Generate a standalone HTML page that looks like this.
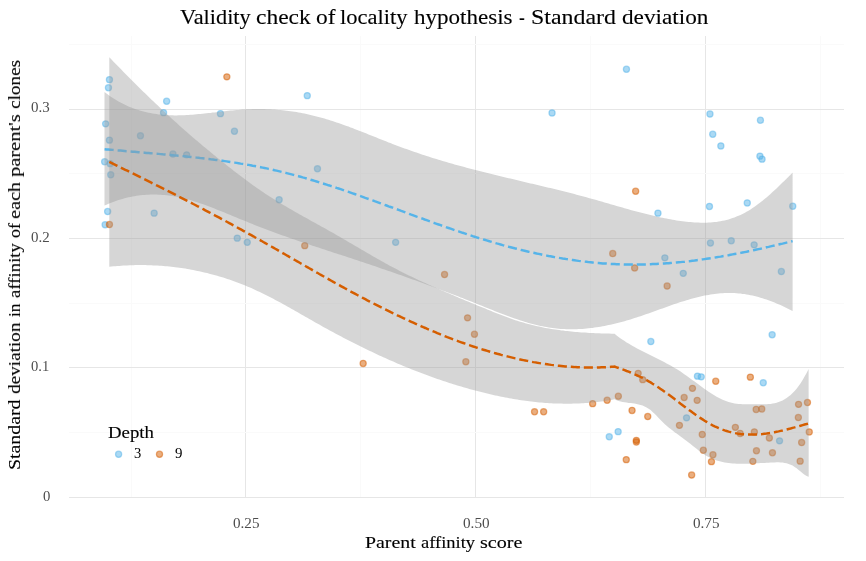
<!DOCTYPE html>
<html><head><meta charset="utf-8"><title>Validity check of locality hypothesis</title>
<style>
html,body{margin:0;padding:0;background:#fff;}
body{width:866px;height:561px;position:relative;overflow:hidden;font-family:"Liberation Serif",serif;}
.t{position:absolute;white-space:nowrap;line-height:1;transform-origin:0 0;color:#000;will-change:transform;-webkit-text-stroke:0.12px currentColor;}
.tick{color:#4d4d4d;-webkit-text-stroke:0;}
.leg{-webkit-text-stroke:0;}
</style></head><body>
<svg width="866" height="561" viewBox="0 0 866 561" style="position:absolute;left:0;top:0">
<rect x="245" y="36" width="1" height="462" fill="#e6e6e6"/>
<rect x="475" y="36" width="1" height="462" fill="#e6e6e6"/>
<rect x="705" y="36" width="1" height="462" fill="#e6e6e6"/>
<rect x="131" y="36" width="1" height="462" fill="#fafafa"/>
<rect x="360" y="36" width="1" height="462" fill="#fafafa"/>
<rect x="590" y="36" width="1" height="462" fill="#fafafa"/>
<rect x="820" y="36" width="1" height="462" fill="#fafafa"/>
<rect x="69" y="44" width="775" height="1" fill="#fafafa"/>
<rect x="69" y="173" width="775" height="1" fill="#fafafa"/>
<rect x="69" y="303" width="775" height="1" fill="#fafafa"/>
<rect x="69" y="432" width="775" height="1" fill="#fafafa"/>
<rect x="69" y="109" width="775" height="1" fill="#e6e6e6"/>
<rect x="69" y="238" width="775" height="1" fill="#e6e6e6"/>
<rect x="69" y="367" width="775" height="1" fill="#e6e6e6"/>
<rect x="69" y="497" width="775" height="1" fill="#e6e6e6"/>
<g fill="#56B4E9" fill-opacity="0.5" stroke="#56B4E9" stroke-opacity="0.5" stroke-width="1.23">
<circle cx="109.45" cy="79.65" r="3.08"/>
<circle cx="108.45" cy="87.75" r="3.08"/>
<circle cx="166.65" cy="101.25" r="3.08"/>
<circle cx="163.55" cy="112.65" r="3.08"/>
<circle cx="220.45" cy="113.65" r="3.08"/>
<circle cx="105.65" cy="123.85" r="3.08"/>
<circle cx="234.45" cy="131.25" r="3.08"/>
<circle cx="140.45" cy="135.75" r="3.08"/>
<circle cx="109.45" cy="140.15" r="3.08"/>
<circle cx="172.95" cy="154.05" r="3.08"/>
<circle cx="186.65" cy="154.85" r="3.08"/>
<circle cx="104.65" cy="161.75" r="3.08"/>
<circle cx="110.15" cy="163.65" r="3.08"/>
<circle cx="110.75" cy="174.75" r="3.08"/>
<circle cx="107.65" cy="211.55" r="3.08"/>
<circle cx="154.15" cy="213.15" r="3.08"/>
<circle cx="105.15" cy="224.75" r="3.08"/>
<circle cx="237.25" cy="238.15" r="3.08"/>
<circle cx="247.25" cy="242.35" r="3.08"/>
<circle cx="279.15" cy="199.75" r="3.08"/>
<circle cx="307.25" cy="95.65" r="3.08"/>
<circle cx="317.45" cy="168.75" r="3.08"/>
<circle cx="395.65" cy="242.35" r="3.08"/>
<circle cx="552.05" cy="112.95" r="3.08"/>
<circle cx="626.45" cy="69.25" r="3.08"/>
<circle cx="657.95" cy="213.15" r="3.08"/>
<circle cx="664.85" cy="257.85" r="3.08"/>
<circle cx="683.25" cy="273.35" r="3.08"/>
<circle cx="709.95" cy="114.05" r="3.08"/>
<circle cx="760.45" cy="120.25" r="3.08"/>
<circle cx="712.75" cy="134.25" r="3.08"/>
<circle cx="720.85" cy="145.95" r="3.08"/>
<circle cx="759.95" cy="156.15" r="3.08"/>
<circle cx="762.05" cy="159.15" r="3.08"/>
<circle cx="709.45" cy="206.45" r="3.08"/>
<circle cx="747.25" cy="202.95" r="3.08"/>
<circle cx="792.75" cy="206.25" r="3.08"/>
<circle cx="710.45" cy="243.05" r="3.08"/>
<circle cx="731.25" cy="240.75" r="3.08"/>
<circle cx="754.15" cy="244.85" r="3.08"/>
<circle cx="781.35" cy="271.55" r="3.08"/>
<circle cx="650.85" cy="341.55" r="3.08"/>
<circle cx="772.15" cy="334.75" r="3.08"/>
<circle cx="697.45" cy="376.15" r="3.08"/>
<circle cx="701.25" cy="376.85" r="3.08"/>
<circle cx="763.25" cy="382.75" r="3.08"/>
<circle cx="686.55" cy="417.85" r="3.08"/>
<circle cx="779.55" cy="440.85" r="3.08"/>
<circle cx="609.25" cy="436.75" r="3.08"/>
<circle cx="618.15" cy="431.65" r="3.08"/>
</g>
<g fill="#D55E00" fill-opacity="0.5" stroke="#D55E00" stroke-opacity="0.5" stroke-width="1.23">
<circle cx="226.85" cy="76.85" r="3.08"/>
<circle cx="109.45" cy="224.55" r="3.08"/>
<circle cx="304.75" cy="245.65" r="3.08"/>
<circle cx="444.55" cy="274.55" r="3.08"/>
<circle cx="363.15" cy="363.45" r="3.08"/>
<circle cx="467.55" cy="317.85" r="3.08"/>
<circle cx="474.45" cy="334.25" r="3.08"/>
<circle cx="465.85" cy="361.75" r="3.08"/>
<circle cx="635.65" cy="191.25" r="3.08"/>
<circle cx="612.75" cy="253.55" r="3.08"/>
<circle cx="634.65" cy="267.95" r="3.08"/>
<circle cx="667.15" cy="286.05" r="3.08"/>
<circle cx="534.55" cy="411.75" r="3.08"/>
<circle cx="543.65" cy="411.75" r="3.08"/>
<circle cx="592.65" cy="403.65" r="3.08"/>
<circle cx="607.15" cy="400.25" r="3.08"/>
<circle cx="618.35" cy="396.25" r="3.08"/>
<circle cx="632.05" cy="410.45" r="3.08"/>
<circle cx="647.75" cy="416.55" r="3.08"/>
<circle cx="638.15" cy="373.35" r="3.08"/>
<circle cx="642.75" cy="379.65" r="3.08"/>
<circle cx="692.45" cy="388.35" r="3.08"/>
<circle cx="684.15" cy="397.55" r="3.08"/>
<circle cx="697.15" cy="400.35" r="3.08"/>
<circle cx="715.75" cy="381.25" r="3.08"/>
<circle cx="750.35" cy="377.15" r="3.08"/>
<circle cx="807.45" cy="402.55" r="3.08"/>
<circle cx="798.55" cy="404.35" r="3.08"/>
<circle cx="756.15" cy="409.45" r="3.08"/>
<circle cx="761.75" cy="408.95" r="3.08"/>
<circle cx="798.35" cy="417.55" r="3.08"/>
<circle cx="679.45" cy="425.35" r="3.08"/>
<circle cx="702.25" cy="434.45" r="3.08"/>
<circle cx="703.35" cy="450.25" r="3.08"/>
<circle cx="712.95" cy="454.75" r="3.08"/>
<circle cx="711.45" cy="461.65" r="3.08"/>
<circle cx="691.65" cy="475.05" r="3.08"/>
<circle cx="735.35" cy="427.35" r="3.08"/>
<circle cx="740.15" cy="433.45" r="3.08"/>
<circle cx="754.35" cy="431.95" r="3.08"/>
<circle cx="756.45" cy="450.75" r="3.08"/>
<circle cx="752.85" cy="461.35" r="3.08"/>
<circle cx="769.35" cy="438.05" r="3.08"/>
<circle cx="772.45" cy="452.75" r="3.08"/>
<circle cx="809.25" cy="431.95" r="3.08"/>
<circle cx="801.65" cy="442.55" r="3.08"/>
<circle cx="800.15" cy="461.15" r="3.08"/>
<circle cx="636.35" cy="440.35" r="3.08"/>
<circle cx="636.35" cy="442.05" r="3.08"/>
<circle cx="626.25" cy="459.65" r="3.08"/>
</g>
<path d="M104.5,92.0 L106.5,93.6 L108.5,95.0 L110.5,96.4 L112.5,97.7 L114.5,99.0 L116.5,100.2 L118.5,101.4 L120.5,102.5 L122.5,103.5 L124.5,104.5 L126.5,105.5 L128.5,106.4 L130.5,107.2 L132.5,108.0 L134.5,108.8 L136.5,109.5 L138.5,110.1 L140.5,110.7 L142.5,111.3 L144.5,111.8 L146.5,112.3 L148.5,112.7 L150.5,113.1 L152.5,113.5 L154.5,113.8 L156.5,114.1 L158.5,114.4 L160.5,114.6 L162.5,114.8 L164.5,115.0 L166.5,115.1 L168.5,115.2 L170.5,115.3 L172.5,115.3 L174.5,115.4 L176.5,115.4 L178.5,115.3 L180.5,115.3 L182.5,115.2 L184.5,115.2 L186.5,115.1 L188.5,114.9 L190.5,114.8 L192.5,114.7 L194.5,114.5 L196.5,114.3 L198.5,114.1 L200.5,114.0 L202.5,113.8 L204.5,113.5 L206.5,113.3 L208.5,113.1 L210.5,112.9 L212.5,112.6 L214.5,112.4 L216.5,112.2 L218.5,111.9 L220.5,111.7 L222.5,111.5 L224.5,111.3 L226.5,111.0 L228.5,110.8 L230.5,110.6 L232.5,110.4 L234.5,110.2 L236.5,110.0 L238.5,109.9 L240.5,109.7 L242.5,109.6 L244.5,109.4 L246.5,109.3 L248.5,109.2 L250.5,109.2 L252.5,109.1 L254.5,109.1 L256.5,109.0 L258.5,109.0 L260.5,109.0 L262.5,109.1 L264.5,109.1 L266.5,109.2 L268.5,109.2 L270.5,109.3 L272.5,109.4 L274.5,109.6 L276.5,109.7 L278.5,109.9 L280.5,110.1 L282.5,110.3 L284.5,110.5 L286.5,110.7 L288.5,111.0 L290.5,111.2 L292.5,111.5 L294.5,111.8 L296.5,112.1 L298.5,112.5 L300.5,112.8 L302.5,113.2 L304.5,113.6 L306.5,114.0 L308.5,114.5 L310.5,114.9 L312.5,115.4 L314.5,115.9 L316.5,116.4 L318.5,116.9 L320.5,117.4 L322.5,118.0 L324.5,118.6 L326.5,119.2 L328.5,119.8 L330.5,120.4 L332.5,121.0 L334.5,121.7 L336.5,122.4 L338.5,123.0 L340.5,123.7 L342.5,124.4 L344.5,125.2 L346.5,125.9 L348.5,126.6 L350.5,127.4 L352.5,128.1 L354.5,128.9 L356.5,129.7 L358.5,130.4 L360.5,131.2 L362.5,132.0 L364.5,132.8 L366.5,133.6 L368.5,134.4 L370.5,135.2 L372.5,136.0 L374.5,136.8 L376.5,137.6 L378.5,138.4 L380.5,139.2 L382.5,140.0 L384.5,140.8 L386.5,141.6 L388.5,142.4 L390.5,143.1 L392.5,143.9 L394.5,144.7 L396.5,145.4 L398.5,146.2 L400.5,146.9 L402.5,147.7 L404.5,148.4 L406.5,149.1 L408.5,149.8 L410.5,150.6 L412.5,151.3 L414.5,152.0 L416.5,152.6 L418.5,153.3 L420.5,154.0 L422.5,154.7 L424.5,155.3 L426.5,156.0 L428.5,156.6 L430.5,157.2 L432.5,157.9 L434.5,158.5 L436.5,159.1 L438.5,159.7 L440.5,160.3 L442.5,160.9 L444.5,161.5 L446.5,162.1 L448.5,162.7 L450.5,163.3 L452.5,163.8 L454.5,164.4 L456.5,164.9 L458.5,165.5 L460.5,166.1 L462.5,166.6 L464.5,167.1 L466.5,167.7 L468.5,168.2 L470.5,168.7 L472.5,169.3 L474.5,169.8 L476.5,170.3 L478.5,170.8 L480.5,171.3 L482.5,171.8 L484.5,172.3 L486.5,172.8 L488.5,173.3 L490.5,173.8 L492.5,174.3 L494.5,174.8 L496.5,175.3 L498.5,175.8 L500.5,176.2 L502.5,176.7 L504.5,177.2 L506.5,177.7 L508.5,178.2 L510.5,178.6 L512.5,179.1 L514.5,179.6 L516.5,180.1 L518.5,180.5 L520.5,181.0 L522.5,181.5 L524.5,181.9 L526.5,182.4 L528.5,182.9 L530.5,183.4 L532.5,183.8 L534.5,184.3 L536.5,184.8 L538.5,185.3 L540.5,185.7 L542.5,186.2 L544.5,186.7 L546.5,187.2 L548.5,187.7 L550.5,188.1 L552.5,188.6 L554.5,189.1 L556.5,189.6 L558.5,190.1 L560.5,190.6 L562.5,191.1 L564.5,191.6 L566.5,192.1 L568.5,192.6 L570.5,193.1 L572.5,193.6 L574.5,194.1 L576.5,194.7 L578.5,195.2 L580.5,195.7 L582.5,196.3 L584.5,196.8 L586.5,197.3 L588.5,197.9 L590.5,198.4 L592.5,199.0 L594.5,199.6 L596.5,200.1 L598.5,200.7 L600.5,201.3 L602.5,201.8 L604.5,202.4 L606.5,203.0 L608.5,203.6 L610.5,204.2 L612.5,204.7 L614.5,205.3 L616.5,205.9 L618.5,206.5 L620.5,207.0 L622.5,207.6 L624.5,208.2 L626.5,208.7 L628.5,209.3 L630.5,209.9 L632.5,210.4 L634.5,211.0 L636.5,211.5 L638.5,212.0 L640.5,212.6 L642.5,213.1 L644.5,213.6 L646.5,214.1 L648.5,214.6 L650.5,215.1 L652.5,215.6 L654.5,216.0 L656.5,216.5 L658.5,216.9 L660.5,217.4 L662.5,217.8 L664.5,218.2 L666.5,218.6 L668.5,219.0 L670.5,219.3 L672.5,219.7 L674.5,220.0 L676.5,220.4 L678.5,220.7 L680.5,221.0 L682.5,221.2 L684.5,221.5 L686.5,221.7 L688.5,221.9 L690.5,222.1 L692.5,222.3 L694.5,222.4 L696.5,222.5 L698.5,222.6 L700.5,222.7 L702.5,222.7 L704.5,222.7 L706.5,222.7 L708.5,222.6 L710.5,222.5 L712.5,222.3 L714.5,222.1 L716.5,221.9 L718.5,221.6 L720.5,221.2 L722.5,220.8 L724.5,220.4 L726.5,219.9 L728.5,219.4 L730.5,218.8 L732.5,218.1 L734.5,217.4 L736.5,216.6 L738.5,215.8 L740.5,214.9 L742.5,213.9 L744.5,212.9 L746.5,211.8 L748.5,210.7 L750.5,209.4 L752.5,208.1 L754.5,206.8 L756.5,205.3 L758.5,203.8 L760.5,202.3 L762.5,200.7 L764.5,199.1 L766.5,197.4 L768.5,195.7 L770.5,193.9 L772.5,192.1 L774.5,190.3 L776.5,188.4 L778.5,186.5 L780.5,184.6 L782.5,182.6 L784.5,180.7 L786.5,178.7 L788.5,176.7 L790.5,174.7 L792.5,172.7 L792.6,172.6 L792.6,311.1 L792.5,311.0 L790.5,310.0 L788.5,308.9 L786.5,307.9 L784.5,307.0 L782.5,306.0 L780.5,305.1 L778.5,304.2 L776.5,303.4 L774.5,302.5 L772.5,301.8 L770.5,301.0 L768.5,300.3 L766.5,299.6 L764.5,298.9 L762.5,298.3 L760.5,297.7 L758.5,297.1 L756.5,296.6 L754.5,296.1 L752.5,295.6 L750.5,295.2 L748.5,294.8 L746.5,294.5 L744.5,294.1 L742.5,293.9 L740.5,293.6 L738.5,293.4 L736.5,293.3 L734.5,293.1 L732.5,293.0 L730.5,293.0 L728.5,293.0 L726.5,293.0 L724.5,293.1 L722.5,293.2 L720.5,293.3 L718.5,293.5 L716.5,293.7 L714.5,293.9 L712.5,294.2 L710.5,294.5 L708.5,294.9 L706.5,295.2 L704.5,295.6 L702.5,296.1 L700.5,296.5 L698.5,297.0 L696.5,297.5 L694.5,298.0 L692.5,298.5 L690.5,299.1 L688.5,299.7 L686.5,300.3 L684.5,300.9 L682.5,301.5 L680.5,302.1 L678.5,302.8 L676.5,303.5 L674.5,304.1 L672.5,304.8 L670.5,305.5 L668.5,306.2 L666.5,306.9 L664.5,307.7 L662.5,308.4 L660.5,309.1 L658.5,309.8 L656.5,310.5 L654.5,311.2 L652.5,312.0 L650.5,312.7 L648.5,313.4 L646.5,314.1 L644.5,314.8 L642.5,315.5 L640.5,316.2 L638.5,316.8 L636.5,317.5 L634.5,318.1 L632.5,318.8 L630.5,319.4 L628.5,320.0 L626.5,320.6 L624.5,321.2 L622.5,321.7 L620.5,322.3 L618.5,322.8 L616.5,323.3 L614.5,323.8 L612.5,324.3 L610.5,324.7 L608.5,325.1 L606.5,325.6 L604.5,325.9 L602.5,326.3 L600.5,326.7 L598.5,327.0 L596.5,327.3 L594.5,327.6 L592.5,327.9 L590.5,328.1 L588.5,328.3 L586.5,328.5 L584.5,328.7 L582.5,328.9 L580.5,329.0 L578.5,329.1 L576.5,329.2 L574.5,329.2 L572.5,329.3 L570.5,329.3 L568.5,329.2 L566.5,329.2 L564.5,329.1 L562.5,329.0 L560.5,328.9 L558.5,328.7 L556.5,328.5 L554.5,328.3 L552.5,328.0 L550.5,327.8 L548.5,327.5 L546.5,327.1 L544.5,326.7 L542.5,326.3 L540.5,325.9 L538.5,325.5 L536.5,325.0 L534.5,324.5 L532.5,324.0 L530.5,323.5 L528.5,322.9 L526.5,322.3 L524.5,321.7 L522.5,321.1 L520.5,320.4 L518.5,319.8 L516.5,319.1 L514.5,318.4 L512.5,317.7 L510.5,317.0 L508.5,316.3 L506.5,315.6 L504.5,314.8 L502.5,314.0 L500.5,313.3 L498.5,312.5 L496.5,311.7 L494.5,310.9 L492.5,310.1 L490.5,309.3 L488.5,308.5 L486.5,307.7 L484.5,306.9 L482.5,306.1 L480.5,305.3 L478.5,304.5 L476.5,303.7 L474.5,302.9 L472.5,302.1 L470.5,301.3 L468.5,300.5 L466.5,299.7 L464.5,298.9 L462.5,298.1 L460.5,297.4 L458.5,296.6 L456.5,295.8 L454.5,295.0 L452.5,294.3 L450.5,293.5 L448.5,292.7 L446.5,292.0 L444.5,291.2 L442.5,290.5 L440.5,289.7 L438.5,288.9 L436.5,288.2 L434.5,287.5 L432.5,286.7 L430.5,286.0 L428.5,285.2 L426.5,284.5 L424.5,283.8 L422.5,283.0 L420.5,282.3 L418.5,281.6 L416.5,280.8 L414.5,280.1 L412.5,279.4 L410.5,278.7 L408.5,278.0 L406.5,277.3 L404.5,276.5 L402.5,275.8 L400.5,275.1 L398.5,274.4 L396.5,273.7 L394.5,273.0 L392.5,272.3 L390.5,271.6 L388.5,270.9 L386.5,270.2 L384.5,269.5 L382.5,268.9 L380.5,268.2 L378.5,267.5 L376.5,266.8 L374.5,266.1 L372.5,265.4 L370.5,264.8 L368.5,264.1 L366.5,263.4 L364.5,262.7 L362.5,262.1 L360.5,261.4 L358.5,260.7 L356.5,260.1 L354.5,259.4 L352.5,258.8 L350.5,258.1 L348.5,257.4 L346.5,256.8 L344.5,256.1 L342.5,255.5 L340.5,254.8 L338.5,254.2 L336.5,253.5 L334.5,252.9 L332.5,252.2 L330.5,251.6 L328.5,250.9 L326.5,250.2 L324.5,249.6 L322.5,248.9 L320.5,248.3 L318.5,247.6 L316.5,247.0 L314.5,246.3 L312.5,245.7 L310.5,245.0 L308.5,244.3 L306.5,243.7 L304.5,243.0 L302.5,242.3 L300.5,241.7 L298.5,241.0 L296.5,240.3 L294.5,239.6 L292.5,238.9 L290.5,238.2 L288.5,237.5 L286.5,236.8 L284.5,236.1 L282.5,235.4 L280.5,234.7 L278.5,234.0 L276.5,233.3 L274.5,232.5 L272.5,231.8 L270.5,231.0 L268.5,230.3 L266.5,229.5 L264.5,228.8 L262.5,228.0 L260.5,227.2 L258.5,226.4 L256.5,225.7 L254.5,224.9 L252.5,224.1 L250.5,223.3 L248.5,222.5 L246.5,221.6 L244.5,220.8 L242.5,220.0 L240.5,219.2 L238.5,218.4 L236.5,217.5 L234.5,216.7 L232.5,215.9 L230.5,215.1 L228.5,214.3 L226.5,213.4 L224.5,212.6 L222.5,211.8 L220.5,211.0 L218.5,210.2 L216.5,209.4 L214.5,208.6 L212.5,207.8 L210.5,207.0 L208.5,206.3 L206.5,205.5 L204.5,204.8 L202.5,204.1 L200.5,203.4 L198.5,202.7 L196.5,202.0 L194.5,201.4 L192.5,200.7 L190.5,200.1 L188.5,199.6 L186.5,199.0 L184.5,198.5 L182.5,198.0 L180.5,197.6 L178.5,197.2 L176.5,196.8 L174.5,196.4 L172.5,196.1 L170.5,195.8 L168.5,195.5 L166.5,195.3 L164.5,195.1 L162.5,194.9 L160.5,194.8 L158.5,194.7 L156.5,194.6 L154.5,194.6 L152.5,194.6 L150.5,194.6 L148.5,194.7 L146.5,194.8 L144.5,194.9 L142.5,195.1 L140.5,195.3 L138.5,195.6 L136.5,195.8 L134.5,196.2 L132.5,196.5 L130.5,196.9 L128.5,197.3 L126.5,197.8 L124.5,198.3 L122.5,198.9 L120.5,199.5 L118.5,200.1 L116.5,200.8 L114.5,201.5 L112.5,202.2 L110.5,203.0 L108.5,203.8 L106.5,204.7 L104.5,205.6Z" fill="#999999" fill-opacity="0.4"/>
<path d="M104.6,149.2 L106.6,149.4 L108.6,149.5 L110.6,149.7 L112.6,149.9 L114.6,150.1 L116.6,150.3 L118.6,150.5 L120.6,150.6 L122.6,150.8 L124.6,151.0 L126.6,151.2 L128.6,151.3 L130.6,151.5 L132.6,151.7 L134.6,151.8 L136.6,152.0 L138.6,152.2 L140.6,152.4 L142.6,152.5 L144.6,152.7 L146.6,152.9 L148.6,153.0 L150.6,153.2 L152.6,153.4 L154.6,153.6 L156.6,153.7 L158.6,153.9 L160.6,154.1 L162.6,154.3 L164.6,154.4 L166.6,154.6 L168.6,154.8 L170.6,155.0 L172.6,155.2 L174.6,155.4 L176.6,155.6 L178.6,155.7 L180.6,155.9 L182.6,156.1 L184.6,156.3 L186.6,156.5 L188.6,156.8 L190.6,157.0 L192.6,157.2 L194.6,157.4 L196.6,157.6 L198.6,157.8 L200.6,158.1 L202.6,158.3 L204.6,158.5 L206.6,158.8 L208.6,159.0 L210.6,159.3 L212.6,159.5 L214.6,159.8 L216.6,160.0 L218.6,160.3 L220.6,160.6 L222.6,160.8 L224.6,161.1 L226.6,161.4 L228.6,161.7 L230.6,162.0 L232.6,162.3 L234.6,162.6 L236.6,162.9 L238.6,163.2 L240.6,163.6 L242.6,163.9 L244.6,164.2 L246.6,164.6 L248.6,164.9 L250.6,165.3 L252.6,165.7 L254.6,166.0 L256.6,166.4 L258.6,166.8 L260.6,167.2 L262.6,167.6 L264.6,168.0 L266.6,168.4 L268.6,168.9 L270.6,169.3 L272.6,169.7 L274.6,170.2 L276.6,170.6 L278.6,171.1 L280.6,171.6 L282.6,172.1 L284.6,172.6 L286.6,173.1 L288.6,173.6 L290.6,174.1 L292.6,174.6 L294.6,175.2 L296.6,175.7 L298.6,176.2 L300.6,176.8 L302.6,177.4 L304.6,177.9 L306.6,178.5 L308.6,179.1 L310.6,179.7 L312.6,180.3 L314.6,180.9 L316.6,181.5 L318.6,182.1 L320.6,182.7 L322.6,183.4 L324.6,184.0 L326.6,184.6 L328.6,185.3 L330.6,185.9 L332.6,186.6 L334.6,187.2 L336.6,187.9 L338.6,188.5 L340.6,189.2 L342.6,189.9 L344.6,190.6 L346.6,191.3 L348.6,191.9 L350.6,192.6 L352.6,193.3 L354.6,194.0 L356.6,194.7 L358.6,195.4 L360.6,196.1 L362.6,196.8 L364.6,197.6 L366.6,198.3 L368.6,199.0 L370.6,199.7 L372.6,200.4 L374.6,201.2 L376.6,201.9 L378.6,202.6 L380.6,203.3 L382.6,204.1 L384.6,204.8 L386.6,205.5 L388.6,206.3 L390.6,207.0 L392.6,207.7 L394.6,208.5 L396.6,209.2 L398.6,209.9 L400.6,210.7 L402.6,211.4 L404.6,212.1 L406.6,212.9 L408.6,213.6 L410.6,214.4 L412.6,215.1 L414.6,215.8 L416.6,216.6 L418.6,217.3 L420.6,218.0 L422.6,218.7 L424.6,219.5 L426.6,220.2 L428.6,220.9 L430.6,221.6 L432.6,222.4 L434.6,223.1 L436.6,223.8 L438.6,224.5 L440.6,225.2 L442.6,225.9 L444.6,226.6 L446.6,227.3 L448.6,228.0 L450.6,228.7 L452.6,229.4 L454.6,230.1 L456.6,230.8 L458.6,231.4 L460.6,232.1 L462.6,232.8 L464.6,233.4 L466.6,234.1 L468.6,234.8 L470.6,235.4 L472.6,236.1 L474.6,236.7 L476.6,237.3 L478.6,238.0 L480.6,238.6 L482.6,239.2 L484.6,239.8 L486.6,240.4 L488.6,241.0 L490.6,241.6 L492.6,242.2 L494.6,242.8 L496.6,243.4 L498.6,243.9 L500.6,244.5 L502.6,245.1 L504.6,245.6 L506.6,246.1 L508.6,246.7 L510.6,247.2 L512.6,247.7 L514.6,248.3 L516.6,248.8 L518.6,249.3 L520.6,249.8 L522.6,250.3 L524.6,250.7 L526.6,251.2 L528.6,251.7 L530.6,252.1 L532.6,252.6 L534.6,253.0 L536.6,253.5 L538.6,253.9 L540.6,254.3 L542.6,254.8 L544.6,255.2 L546.6,255.6 L548.6,256.0 L550.6,256.3 L552.6,256.7 L554.6,257.1 L556.6,257.4 L558.6,257.8 L560.6,258.1 L562.6,258.5 L564.6,258.8 L566.6,259.1 L568.6,259.4 L570.6,259.7 L572.6,260.0 L574.6,260.3 L576.6,260.6 L578.6,260.9 L580.6,261.1 L582.6,261.4 L584.6,261.6 L586.6,261.8 L588.6,262.1 L590.6,262.3 L592.6,262.5 L594.6,262.7 L596.6,262.9 L598.6,263.0 L600.6,263.2 L602.6,263.4 L604.6,263.5 L606.6,263.6 L608.6,263.8 L610.6,263.9 L612.6,264.0 L614.6,264.1 L616.6,264.2 L618.6,264.3 L620.6,264.3 L622.6,264.4 L624.6,264.5 L626.6,264.5 L628.6,264.5 L630.6,264.5 L632.6,264.6 L634.6,264.6 L636.6,264.5 L638.6,264.5 L640.6,264.5 L642.6,264.5 L644.6,264.4 L646.6,264.4 L648.6,264.3 L650.6,264.2 L652.6,264.1 L654.6,264.1 L656.6,264.0 L658.6,263.8 L660.6,263.7 L662.6,263.6 L664.6,263.5 L666.6,263.3 L668.6,263.2 L670.6,263.0 L672.6,262.8 L674.6,262.7 L676.6,262.5 L678.6,262.3 L680.6,262.1 L682.6,261.9 L684.6,261.7 L686.6,261.4 L688.6,261.2 L690.6,261.0 L692.6,260.7 L694.6,260.5 L696.6,260.2 L698.6,260.0 L700.6,259.7 L702.6,259.4 L704.6,259.1 L706.6,258.8 L708.6,258.5 L710.6,258.2 L712.6,257.9 L714.6,257.6 L716.6,257.2 L718.6,256.9 L720.6,256.6 L722.6,256.2 L724.6,255.9 L726.6,255.5 L728.6,255.2 L730.6,254.8 L732.6,254.4 L734.6,254.0 L736.6,253.7 L738.6,253.3 L740.6,252.9 L742.6,252.5 L744.6,252.1 L746.6,251.7 L748.6,251.2 L750.6,250.8 L752.6,250.4 L754.6,250.0 L756.6,249.5 L758.6,249.1 L760.6,248.7 L762.6,248.2 L764.6,247.8 L766.6,247.3 L768.6,246.9 L770.6,246.4 L772.6,245.9 L774.6,245.5 L776.6,245.0 L778.6,244.5 L780.6,244.0 L782.6,243.6 L784.6,243.1 L786.6,242.6 L788.6,242.1 L790.6,241.6 L792.6,241.1" fill="none" stroke="#56B4E9" stroke-width="2.46" stroke-dasharray="9.1 3.94"/>
<path d="M109.3,57.2 L111.3,59.3 L113.3,61.4 L115.3,63.4 L117.3,65.5 L119.3,67.6 L121.3,69.6 L123.3,71.7 L125.3,73.7 L127.3,75.7 L129.3,77.8 L131.3,79.8 L133.3,81.8 L135.3,83.8 L137.3,85.8 L139.3,87.7 L141.3,89.7 L143.3,91.7 L145.3,93.6 L147.3,95.6 L149.3,97.5 L151.3,99.4 L153.3,101.3 L155.3,103.2 L157.3,105.1 L159.3,107.0 L161.3,108.9 L163.3,110.8 L165.3,112.6 L167.3,114.5 L169.3,116.3 L171.3,118.2 L173.3,120.0 L175.3,121.8 L177.3,123.6 L179.3,125.4 L181.3,127.2 L183.3,129.0 L185.3,130.7 L187.3,132.5 L189.3,134.2 L191.3,136.0 L193.3,137.7 L195.3,139.4 L197.3,141.1 L199.3,142.8 L201.3,144.5 L203.3,146.2 L205.3,147.8 L207.3,149.5 L209.3,151.1 L211.3,152.8 L213.3,154.4 L215.3,156.0 L217.3,157.7 L219.3,159.3 L221.3,160.9 L223.3,162.5 L225.3,164.1 L227.3,165.7 L229.3,167.2 L231.3,168.8 L233.3,170.4 L235.3,171.9 L237.3,173.5 L239.3,175.0 L241.3,176.5 L243.3,178.0 L245.3,179.5 L247.3,181.0 L249.3,182.5 L251.3,183.9 L253.3,185.4 L255.3,186.8 L257.3,188.2 L259.3,189.6 L261.3,191.0 L263.3,192.3 L265.3,193.7 L267.3,195.0 L269.3,196.3 L271.3,197.6 L273.3,198.8 L275.3,200.1 L277.3,201.3 L279.3,202.6 L281.3,203.8 L283.3,205.0 L285.3,206.1 L287.3,207.3 L289.3,208.5 L291.3,209.6 L293.3,210.8 L295.3,211.9 L297.3,213.1 L299.3,214.2 L301.3,215.3 L303.3,216.4 L305.3,217.5 L307.3,218.6 L309.3,219.8 L311.3,220.9 L313.3,222.0 L315.3,223.1 L317.3,224.2 L319.3,225.3 L321.3,226.4 L323.3,227.5 L325.3,228.6 L327.3,229.7 L329.3,230.9 L331.3,232.0 L333.3,233.1 L335.3,234.3 L337.3,235.4 L339.3,236.6 L341.3,237.7 L343.3,238.9 L345.3,240.1 L347.3,241.2 L349.3,242.4 L351.3,243.6 L353.3,244.8 L355.3,245.9 L357.3,247.1 L359.3,248.3 L361.3,249.4 L363.3,250.6 L365.3,251.8 L367.3,252.9 L369.3,254.1 L371.3,255.3 L373.3,256.4 L375.3,257.6 L377.3,258.7 L379.3,259.8 L381.3,261.0 L383.3,262.1 L385.3,263.2 L387.3,264.3 L389.3,265.4 L391.3,266.4 L393.3,267.5 L395.3,268.6 L397.3,269.6 L399.3,270.7 L401.3,271.7 L403.3,272.7 L405.3,273.7 L407.3,274.7 L409.3,275.7 L411.3,276.6 L413.3,277.6 L415.3,278.5 L417.3,279.5 L419.3,280.4 L421.3,281.3 L423.3,282.2 L425.3,283.1 L427.3,284.0 L429.3,284.9 L431.3,285.8 L433.3,286.7 L435.3,287.6 L437.3,288.5 L439.3,289.3 L441.3,290.2 L443.3,291.1 L445.3,291.9 L447.3,292.8 L449.3,293.6 L451.3,294.5 L453.3,295.3 L455.3,296.2 L457.3,297.0 L459.3,297.9 L461.3,298.7 L463.3,299.6 L465.3,300.4 L467.3,301.2 L469.3,302.1 L471.3,302.9 L473.3,303.7 L475.3,304.5 L477.3,305.4 L479.3,306.2 L481.3,307.0 L483.3,307.8 L485.3,308.6 L487.3,309.5 L489.3,310.3 L491.3,311.1 L493.3,311.9 L495.3,312.7 L497.3,313.5 L499.3,314.3 L501.3,315.0 L503.3,315.8 L505.3,316.6 L507.3,317.3 L509.3,318.1 L511.3,318.8 L513.3,319.5 L515.3,320.2 L517.3,320.8 L519.3,321.4 L521.3,322.1 L523.3,322.6 L525.3,323.2 L527.3,323.8 L529.3,324.3 L531.3,324.8 L533.3,325.3 L535.3,325.8 L537.3,326.2 L539.3,326.6 L541.3,327.1 L543.3,327.5 L545.3,327.9 L547.3,328.2 L549.3,328.6 L551.3,328.9 L553.3,329.2 L555.3,329.5 L557.3,329.8 L559.3,330.1 L561.3,330.4 L563.3,330.6 L565.3,330.9 L567.3,331.1 L569.3,331.3 L571.3,331.5 L573.3,331.7 L575.3,331.9 L577.3,332.0 L579.3,332.2 L581.3,332.4 L583.3,332.5 L585.3,332.6 L587.3,332.7 L589.3,332.9 L591.3,333.0 L593.3,333.1 L595.3,333.2 L597.3,333.2 L599.3,333.3 L601.3,333.4 L603.3,333.5 L605.3,333.5 L607.3,333.6 L609.3,333.6 L611.3,333.7 L613.3,333.7 L614.6,333.7 L616.6,335.6 L618.6,337.1 L620.6,338.5 L622.6,339.8 L624.6,341.1 L626.6,342.4 L628.6,343.6 L630.6,344.8 L632.6,346.0 L634.6,347.1 L636.6,348.2 L638.6,349.2 L640.6,350.3 L642.6,351.3 L644.6,352.3 L646.6,353.3 L648.6,354.3 L650.6,355.3 L652.6,356.3 L654.6,357.2 L656.6,358.2 L658.6,359.2 L660.6,360.2 L662.6,361.3 L664.6,362.3 L666.6,363.4 L668.6,364.4 L670.6,365.6 L672.6,366.7 L674.6,367.9 L676.6,369.1 L678.6,370.3 L680.6,371.6 L682.6,373.0 L684.6,374.4 L686.6,375.8 L688.6,377.2 L690.6,378.7 L692.6,380.2 L694.6,381.6 L696.6,383.1 L698.6,384.6 L700.6,386.1 L702.6,387.5 L704.6,388.9 L706.6,390.3 L708.6,391.7 L710.6,393.0 L712.6,394.3 L714.6,395.5 L716.6,396.7 L718.6,397.8 L720.6,398.8 L722.6,399.7 L724.6,400.6 L726.6,401.3 L728.6,402.0 L730.6,402.6 L732.6,403.0 L734.6,403.4 L736.6,403.7 L738.6,403.9 L740.6,404.1 L742.6,404.2 L744.6,404.2 L746.6,404.2 L748.6,404.2 L750.6,404.2 L752.6,404.2 L754.6,404.2 L756.6,404.2 L758.6,404.3 L760.6,404.3 L762.6,404.3 L764.6,404.3 L766.6,404.2 L768.6,404.1 L770.6,403.9 L772.6,403.6 L774.6,403.2 L776.6,402.7 L778.6,402.1 L780.6,401.3 L782.6,400.4 L784.6,399.3 L786.6,398.1 L788.6,396.6 L790.6,395.0 L792.6,393.1 L794.6,391.0 L796.6,388.7 L798.6,386.1 L800.6,383.2 L802.6,380.1 L804.6,376.6 L806.6,372.9 L808.6,368.9 L808.7,476.9 L808.6,476.8 L806.6,476.0 L804.6,474.7 L802.6,473.2 L800.6,471.6 L798.6,469.9 L796.6,468.3 L794.6,466.9 L792.6,465.6 L790.6,464.7 L788.6,463.9 L786.6,463.3 L784.6,462.9 L782.6,462.6 L780.6,462.4 L778.6,462.3 L776.6,462.3 L774.6,462.4 L772.6,462.5 L770.6,462.6 L768.6,462.7 L766.6,462.8 L764.6,462.9 L762.6,463.0 L760.6,463.1 L758.6,463.2 L756.6,463.3 L754.6,463.4 L752.6,463.5 L750.6,463.6 L748.6,463.7 L746.6,463.7 L744.6,463.8 L742.6,463.8 L740.6,463.8 L738.6,463.7 L736.6,463.7 L734.6,463.6 L732.6,463.4 L730.6,463.2 L728.6,463.0 L726.6,462.7 L724.6,462.4 L722.6,462.0 L720.6,461.6 L718.6,461.1 L716.6,460.4 L714.6,459.7 L712.6,458.9 L710.6,458.0 L708.6,457.0 L706.6,455.9 L704.6,454.7 L702.6,453.3 L700.6,451.9 L698.6,450.4 L696.6,448.8 L694.6,447.2 L692.6,445.7 L690.6,444.1 L688.6,442.5 L686.6,441.0 L684.6,439.5 L682.6,438.0 L680.6,436.6 L678.6,435.1 L676.6,433.6 L674.6,432.2 L672.6,430.6 L670.6,429.1 L668.6,427.4 L666.6,425.7 L664.6,423.9 L662.6,422.0 L660.6,420.0 L658.6,417.9 L656.6,415.8 L654.6,413.8 L652.6,411.9 L650.6,410.1 L648.6,408.7 L646.6,407.4 L644.6,406.4 L642.6,405.6 L640.6,404.9 L638.6,404.4 L636.6,403.9 L634.6,403.6 L632.6,403.3 L630.6,403.1 L628.6,402.9 L626.6,402.6 L624.6,402.3 L622.6,402.0 L620.6,401.5 L618.6,401.0 L616.6,400.3 L614.6,399.3 L613.3,399.6 L611.3,399.9 L609.3,400.3 L607.3,400.6 L605.3,400.9 L603.3,401.2 L601.3,401.5 L599.3,401.7 L597.3,402.0 L595.3,402.2 L593.3,402.4 L591.3,402.6 L589.3,402.8 L587.3,402.9 L585.3,403.1 L583.3,403.2 L581.3,403.3 L579.3,403.4 L577.3,403.5 L575.3,403.6 L573.3,403.6 L571.3,403.7 L569.3,403.7 L567.3,403.7 L565.3,403.7 L563.3,403.7 L561.3,403.6 L559.3,403.6 L557.3,403.5 L555.3,403.5 L553.3,403.4 L551.3,403.3 L549.3,403.2 L547.3,403.0 L545.3,402.9 L543.3,402.7 L541.3,402.6 L539.3,402.4 L537.3,402.2 L535.3,402.0 L533.3,401.8 L531.3,401.5 L529.3,401.3 L527.3,401.0 L525.3,400.8 L523.3,400.5 L521.3,400.2 L519.3,399.9 L517.3,399.6 L515.3,399.3 L513.3,398.9 L511.3,398.6 L509.3,398.2 L507.3,397.8 L505.3,397.5 L503.3,397.1 L501.3,396.7 L499.3,396.3 L497.3,395.8 L495.3,395.4 L493.3,395.0 L491.3,394.5 L489.3,394.0 L487.3,393.6 L485.3,393.1 L483.3,392.6 L481.3,392.1 L479.3,391.6 L477.3,391.1 L475.3,390.5 L473.3,390.0 L471.3,389.5 L469.3,388.9 L467.3,388.3 L465.3,387.8 L463.3,387.2 L461.3,386.6 L459.3,386.0 L457.3,385.4 L455.3,384.8 L453.3,384.2 L451.3,383.5 L449.3,382.9 L447.3,382.2 L445.3,381.6 L443.3,380.9 L441.3,380.2 L439.3,379.6 L437.3,378.9 L435.3,378.2 L433.3,377.5 L431.3,376.8 L429.3,376.0 L427.3,375.3 L425.3,374.6 L423.3,373.8 L421.3,373.1 L419.3,372.3 L417.3,371.5 L415.3,370.7 L413.3,369.9 L411.3,369.2 L409.3,368.3 L407.3,367.5 L405.3,366.7 L403.3,365.9 L401.3,365.1 L399.3,364.2 L397.3,363.4 L395.3,362.5 L393.3,361.6 L391.3,360.8 L389.3,359.9 L387.3,359.0 L385.3,358.1 L383.3,357.2 L381.3,356.3 L379.3,355.4 L377.3,354.4 L375.3,353.5 L373.3,352.6 L371.3,351.6 L369.3,350.7 L367.3,349.7 L365.3,348.8 L363.3,347.8 L361.3,346.8 L359.3,345.8 L357.3,344.8 L355.3,343.8 L353.3,342.8 L351.3,341.8 L349.3,340.8 L347.3,339.7 L345.3,338.7 L343.3,337.7 L341.3,336.6 L339.3,335.6 L337.3,334.5 L335.3,333.4 L333.3,332.3 L331.3,331.3 L329.3,330.2 L327.3,329.1 L325.3,328.0 L323.3,326.9 L321.3,325.8 L319.3,324.6 L317.3,323.5 L315.3,322.4 L313.3,321.2 L311.3,320.1 L309.3,319.0 L307.3,317.8 L305.3,316.7 L303.3,315.5 L301.3,314.4 L299.3,313.2 L297.3,312.1 L295.3,311.0 L293.3,309.8 L291.3,308.7 L289.3,307.6 L287.3,306.5 L285.3,305.3 L283.3,304.2 L281.3,303.1 L279.3,302.0 L277.3,301.0 L275.3,299.9 L273.3,298.8 L271.3,297.8 L269.3,296.8 L267.3,295.7 L265.3,294.7 L263.3,293.7 L261.3,292.8 L259.3,291.8 L257.3,290.9 L255.3,289.9 L253.3,289.0 L251.3,288.1 L249.3,287.3 L247.3,286.4 L245.3,285.6 L243.3,284.8 L241.3,284.0 L239.3,283.2 L237.3,282.4 L235.3,281.7 L233.3,281.0 L231.3,280.3 L229.3,279.6 L227.3,278.9 L225.3,278.3 L223.3,277.6 L221.3,277.0 L219.3,276.4 L217.3,275.8 L215.3,275.3 L213.3,274.7 L211.3,274.2 L209.3,273.7 L207.3,273.1 L205.3,272.7 L203.3,272.2 L201.3,271.7 L199.3,271.3 L197.3,270.9 L195.3,270.5 L193.3,270.1 L191.3,269.7 L189.3,269.3 L187.3,269.0 L185.3,268.6 L183.3,268.3 L181.3,268.0 L179.3,267.7 L177.3,267.5 L175.3,267.2 L173.3,267.0 L171.3,266.7 L169.3,266.5 L167.3,266.3 L165.3,266.2 L163.3,266.0 L161.3,265.8 L159.3,265.7 L157.3,265.6 L155.3,265.5 L153.3,265.4 L151.3,265.3 L149.3,265.2 L147.3,265.2 L145.3,265.1 L143.3,265.1 L141.3,265.1 L139.3,265.1 L137.3,265.1 L135.3,265.1 L133.3,265.2 L131.3,265.2 L129.3,265.3 L127.3,265.4 L125.3,265.5 L123.3,265.6 L121.3,265.7 L119.3,265.9 L117.3,266.0 L115.3,266.2 L113.3,266.3 L111.3,266.5 L109.3,266.7Z" fill="#999999" fill-opacity="0.4"/>
<path d="M109.3,161.8 L111.3,162.8 L113.3,163.8 L115.3,164.8 L117.3,165.8 L119.3,166.8 L121.3,167.8 L123.3,168.8 L125.3,169.8 L127.3,170.7 L129.3,171.7 L131.3,172.7 L133.3,173.7 L135.3,174.7 L137.3,175.7 L139.3,176.7 L141.3,177.7 L143.3,178.7 L145.3,179.7 L147.3,180.7 L149.3,181.7 L151.3,182.7 L153.3,183.7 L155.3,184.7 L157.3,185.7 L159.3,186.7 L161.3,187.7 L163.3,188.7 L165.3,189.7 L167.3,190.7 L169.3,191.7 L171.3,192.7 L173.3,193.7 L175.3,194.7 L177.3,195.8 L179.3,196.8 L181.3,197.8 L183.3,198.8 L185.3,199.8 L187.3,200.9 L189.3,201.9 L191.3,202.9 L193.3,204.0 L195.3,205.0 L197.3,206.1 L199.3,207.1 L201.3,208.1 L203.3,209.2 L205.3,210.3 L207.3,211.3 L209.3,212.4 L211.3,213.4 L213.3,214.5 L215.3,215.6 L217.3,216.6 L219.3,217.7 L221.3,218.8 L223.3,219.9 L225.3,220.9 L227.3,222.0 L229.3,223.1 L231.3,224.2 L233.3,225.3 L235.3,226.4 L237.3,227.5 L239.3,228.6 L241.3,229.7 L243.3,230.8 L245.3,231.9 L247.3,233.0 L249.3,234.1 L251.3,235.2 L253.3,236.3 L255.3,237.5 L257.3,238.6 L259.3,239.7 L261.3,240.8 L263.3,242.0 L265.3,243.1 L267.3,244.2 L269.3,245.4 L271.3,246.5 L273.3,247.6 L275.3,248.8 L277.3,249.9 L279.3,251.1 L281.3,252.2 L283.3,253.4 L285.3,254.5 L287.3,255.7 L289.3,256.8 L291.3,257.9 L293.3,259.1 L295.3,260.2 L297.3,261.4 L299.3,262.5 L301.3,263.7 L303.3,264.8 L305.3,266.0 L307.3,267.1 L309.3,268.3 L311.3,269.4 L313.3,270.6 L315.3,271.7 L317.3,272.8 L319.3,274.0 L321.3,275.1 L323.3,276.2 L325.3,277.4 L327.3,278.5 L329.3,279.6 L331.3,280.7 L333.3,281.9 L335.3,283.0 L337.3,284.1 L339.3,285.2 L341.3,286.3 L343.3,287.4 L345.3,288.5 L347.3,289.6 L349.3,290.7 L351.3,291.8 L353.3,292.8 L355.3,293.9 L357.3,295.0 L359.3,296.0 L361.3,297.1 L363.3,298.2 L365.3,299.2 L367.3,300.3 L369.3,301.3 L371.3,302.3 L373.3,303.4 L375.3,304.4 L377.3,305.4 L379.3,306.4 L381.3,307.4 L383.3,308.4 L385.3,309.4 L387.3,310.4 L389.3,311.4 L391.3,312.4 L393.3,313.3 L395.3,314.3 L397.3,315.3 L399.3,316.2 L401.3,317.2 L403.3,318.1 L405.3,319.0 L407.3,320.0 L409.3,320.9 L411.3,321.8 L413.3,322.7 L415.3,323.6 L417.3,324.5 L419.3,325.4 L421.3,326.3 L423.3,327.2 L425.3,328.0 L427.3,328.9 L429.3,329.7 L431.3,330.6 L433.3,331.4 L435.3,332.2 L437.3,333.1 L439.3,333.9 L441.3,334.7 L443.3,335.5 L445.3,336.3 L447.3,337.1 L449.3,337.8 L451.3,338.6 L453.3,339.4 L455.3,340.1 L457.3,340.8 L459.3,341.6 L461.3,342.3 L463.3,343.0 L465.3,343.7 L467.3,344.4 L469.3,345.1 L471.3,345.8 L473.3,346.5 L475.3,347.1 L477.3,347.8 L479.3,348.4 L481.3,349.1 L483.3,349.7 L485.3,350.3 L487.3,350.9 L489.3,351.5 L491.3,352.1 L493.3,352.7 L495.3,353.2 L497.3,353.8 L499.3,354.3 L501.3,354.9 L503.3,355.4 L505.3,355.9 L507.3,356.4 L509.3,356.9 L511.3,357.4 L513.3,357.9 L515.3,358.4 L517.3,358.8 L519.3,359.3 L521.3,359.7 L523.3,360.1 L525.3,360.5 L527.3,360.9 L529.3,361.3 L531.3,361.7 L533.3,362.1 L535.3,362.4 L537.3,362.8 L539.3,363.1 L541.3,363.4 L543.3,363.7 L545.3,364.0 L547.3,364.3 L549.3,364.6 L551.3,364.9 L553.3,365.1 L555.3,365.3 L557.3,365.6 L559.3,365.8 L561.3,366.0 L563.3,366.2 L565.3,366.4 L567.3,366.5 L569.3,366.7 L571.3,366.8 L573.3,366.9 L575.3,367.1 L577.3,367.2 L579.3,367.2 L581.3,367.3 L583.3,367.4 L585.3,367.4 L587.3,367.5 L589.3,367.5 L591.3,367.5 L593.3,367.5 L595.3,367.5 L597.3,367.4 L599.3,367.4 L601.3,367.3 L603.3,367.3 L605.3,367.2 L607.3,367.1 L609.3,367.0 L611.3,366.8 L613.3,366.7 L614.6,366.6 L616.6,367.3 L618.6,368.0 L620.6,368.7 L622.6,369.4 L624.6,370.2 L626.6,371.0 L628.6,371.7 L630.6,372.5 L632.6,373.4 L634.6,374.3 L636.6,375.1 L638.6,376.1 L640.6,377.0 L642.6,378.0 L644.6,379.1 L646.6,380.2 L648.6,381.3 L650.6,382.4 L652.6,383.7 L654.6,384.9 L656.6,386.2 L658.6,387.5 L660.6,388.9 L662.6,390.3 L664.6,391.7 L666.6,393.2 L668.6,394.6 L670.6,396.1 L672.6,397.6 L674.6,399.1 L676.6,400.6 L678.6,402.1 L680.6,403.7 L682.6,405.2 L684.6,406.7 L686.6,408.2 L688.6,409.7 L690.6,411.1 L692.6,412.6 L694.6,414.0 L696.6,415.4 L698.6,416.8 L700.6,418.1 L702.6,419.4 L704.6,420.7 L706.6,421.9 L708.6,423.1 L710.6,424.2 L712.6,425.3 L714.6,426.3 L716.6,427.2 L718.6,428.1 L720.6,428.9 L722.6,429.7 L724.6,430.4 L726.6,431.0 L728.6,431.6 L730.6,432.1 L732.6,432.6 L734.6,433.0 L736.6,433.4 L738.6,433.7 L740.6,434.0 L742.6,434.2 L744.6,434.3 L746.6,434.5 L748.6,434.5 L750.6,434.6 L752.6,434.6 L754.6,434.5 L756.6,434.4 L758.6,434.3 L760.6,434.2 L762.6,434.0 L764.6,433.7 L766.6,433.5 L768.6,433.2 L770.6,432.9 L772.6,432.5 L774.6,432.2 L776.6,431.8 L778.6,431.4 L780.6,430.9 L782.6,430.5 L784.6,430.0 L786.6,429.5 L788.6,429.0 L790.6,428.5 L792.6,427.9 L794.6,427.4 L796.6,426.8 L798.6,426.3 L800.6,425.7 L802.6,425.1 L804.6,424.5 L806.6,424.0 L808.6,423.4" fill="none" stroke="#D55E00" stroke-width="2.46" stroke-dasharray="9.1 3.94"/>
<circle cx="118.6" cy="454.3" r="3.08" fill="#56B4E9" fill-opacity="0.5" stroke="#56B4E9" stroke-opacity="0.5" stroke-width="1.23"/>
<circle cx="159.5" cy="454.3" r="3.08" fill="#D55E00" fill-opacity="0.5" stroke="#D55E00" stroke-opacity="0.5" stroke-width="1.23"/>
</svg>
<div class="t" style="left:180px;top:7px;font-size:21.0px;transform:scale(1.0636,1)">Validity</div>
<div class="t" style="left:256px;top:7px;font-size:21.0px;transform:scale(1.1178,1)">check</div>
<div class="t" style="left:316px;top:7px;font-size:21.0px;transform:scale(1.1133,1)">of</div>
<div class="t" style="left:340px;top:7px;font-size:21.0px;transform:scale(1.0714,1)">locality</div>
<div class="t" style="left:414px;top:7px;font-size:21.0px;transform:scale(1.0965,1)">hypothesis</div>
<div class="t" style="left:519px;top:7px;font-size:21.0px;transform:scale(0.8060,1)">-</div>
<div class="t" style="left:531px;top:7px;font-size:21.0px;transform:scale(1.1387,1)">Standard</div>
<div class="t" style="left:622px;top:7px;font-size:21.0px;transform:scale(1.1067,1)">deviation</div>
<div class="t" style="left:365px;top:535px;font-size:16.96px;transform:scale(1.1714,1)">Parent</div>
<div class="t" style="left:421px;top:535px;font-size:16.96px;transform:scale(1.0921,1)">affinity</div>
<div class="t" style="left:480px;top:535px;font-size:16.96px;transform:scale(1.1867,1)">score</div>
<div class="t" style="left:7px;top:470px;font-size:16.96px;transform:rotate(-90deg) scale(1.1705,1)">Standard</div>
<div class="t" style="left:7px;top:394px;font-size:16.96px;transform:rotate(-90deg) scale(1.1334,1)">deviation</div>
<div class="t" style="left:7px;top:317px;font-size:16.96px;transform:rotate(-90deg) scale(1.0232,1)">in</div>
<div class="t" style="left:7px;top:298px;font-size:16.96px;transform:rotate(-90deg) scale(1.1066,1)">affinity</div>
<div class="t" style="left:7px;top:238px;font-size:16.96px;transform:rotate(-90deg) scale(1.0690,1)">of</div>
<div class="t" style="left:7px;top:219px;font-size:16.96px;transform:rotate(-90deg) scale(1.1932,1)">each</div>
<div class="t" style="left:7px;top:177px;font-size:16.96px;transform:rotate(-90deg) scale(1.2086,1)">parent&#39;s</div>
<div class="t" style="left:7px;top:109px;font-size:16.96px;transform:rotate(-90deg) scale(1.1327,1)">clones</div>
<div class="t tick" style="left:233px;top:517px;font-size:13.56px;transform:scale(1.1167,1)">0.25</div>
<div class="t tick" style="left:463px;top:517px;font-size:13.56px;transform:scale(1.1216,1)">0.50</div>
<div class="t tick" style="left:693px;top:517px;font-size:13.56px;transform:scale(1.1167,1)">0.75</div>
<div class="t tick" style="left:31px;top:101px;font-size:13.56px;transform:scale(1.1068,1)">0.3</div>
<div class="t tick" style="left:31px;top:231px;font-size:13.56px;transform:scale(1.1038,1)">0.2</div>
<div class="t tick" style="left:31px;top:360px;font-size:13.56px;transform:scale(1.0759,1)">0.1</div>
<div class="t tick" style="left:43px;top:490px;font-size:13.56px;transform:scale(1.0866,1)">0</div>
<div class="t" style="left:108px;top:425px;font-size:16.96px;transform:scale(1.1098,1)">Depth</div>
<div class="t leg" style="left:134px;top:447px;font-size:13.56px;transform:scale(1.0722,1)">3</div>
<div class="t leg" style="left:175px;top:447px;font-size:13.56px;transform:scale(1.0989,1)">9</div>
</body></html>
